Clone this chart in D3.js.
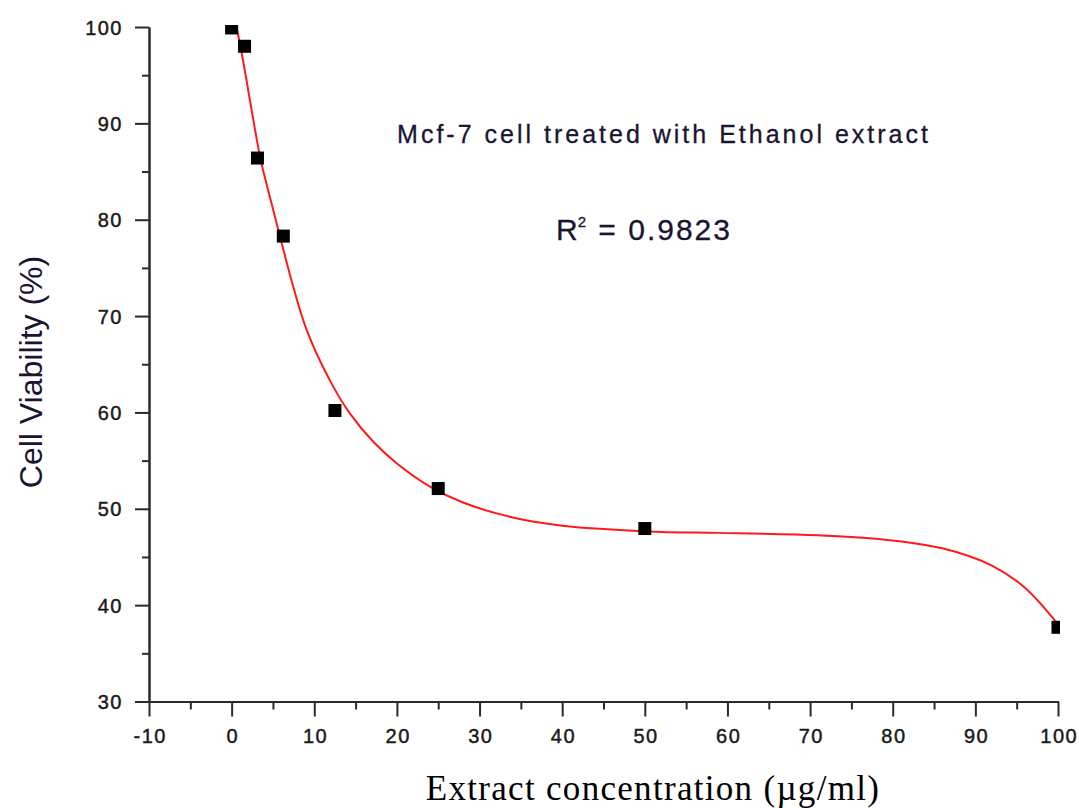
<!DOCTYPE html>
<html>
<head>
<meta charset="utf-8">
<script src="https://cdn.jsdelivr.net/npm/d3@7/dist/d3.min.js"></script>
<style>
  html, body { margin: 0; padding: 0; background: #fff; }
  svg { display: block; }
  .tick text { font-family: "Liberation Sans", Arial, sans-serif; font-size: 20px; fill: #1a1a1a; stroke: #1a1a1a; stroke-width: 0.45px; letter-spacing: 1.5px; }
</style>
</head>
<body>
<svg id="chart" width="1079" height="808"></svg>
<script>
// Measured viability of MCF-7 cells at each extract concentration
const concentration = [0, 1.5625, 3.125, 6.25, 12.5, 25, 50, 100];
const viability     = [99.9, 98.0, 86.4, 78.3, 60.2, 52.1, 47.95, 37.7];

// Fitted response curve, sampled along its length
const fitX = [0, 1.22, 2.63, 3.52, 4.85, 6.06, 7.27, 9.09, 11.9, 14.3, 17.2, 20, 24, 28, 34, 40, 46, 52, 59, 71, 78, 86, 92, 96, 100];
const fitY = [102.5, 97.27, 90.34, 86.19, 81.62, 77.57, 73.62, 68.54, 63.3, 59.9, 56.9, 54.7, 52.3, 50.65, 49.1, 48.25, 47.85, 47.6, 47.5, 47.25, 46.9, 45.9, 44.1, 41.8, 38.0];

// Axis ticks
const xMajor = [-10, 0, 10, 20, 30, 40, 50, 60, 70, 80, 90, 100];
const xMinor = [-5, 5, 15, 25, 35, 45, 55, 65, 75, 85, 95];
const yMajor = [30, 40, 50, 60, 70, 80, 90, 100];
const yMinor = [35, 45, 55, 65, 75, 85, 95];

const titleText = "Mcf-7 cell treated with Ethanol extract";
const r2Value = "0.9823";
const xLabel = "Extract concentration (\u00b5g/ml)";
const yLabel = "Cell Viability (%)";

const svg = d3.select("#chart");
const plot = { left: 149, right: 1058, top: 27, bottom: 701.5 };

const x = d3.scaleLinear().domain([-10, 100]).range([plot.left, plot.right]);
const y = d3.scaleLinear().domain([30, 100]).range([plot.bottom, plot.top]);

// Clip region for marks, a touch larger than the axes box
svg.append("defs").append("clipPath").attr("id", "plot-clip")
  .append("rect")
  .attr("x", plot.left - 2).attr("y", plot.top - 2)
  .attr("width", plot.right - plot.left + 4)
  .attr("height", plot.bottom - plot.top + 4);

function styleAxis(g) {
  g.select(".domain").attr("stroke", "#2a2a2a").attr("stroke-width", 2);
  g.selectAll(".tick line").attr("stroke", "#2a2a2a").attr("stroke-width", 2);
}

// Plain hyphen-minus labels
const fmt = (d) => String(d);

// Minor ticks
svg.append("g")
  .attr("transform", `translate(${plot.left},0)`)
  .call(d3.axisLeft(y).tickValues(yMinor).tickSize(7).tickSizeOuter(0).tickFormat(""))
  .call(styleAxis);
svg.append("g")
  .attr("transform", `translate(0,${plot.bottom})`)
  .call(d3.axisBottom(x).tickValues(xMinor).tickSize(8).tickSizeOuter(0).tickFormat(""))
  .call(styleAxis);

// Major ticks with labels
const yAxis = svg.append("g")
  .attr("transform", `translate(${plot.left},0)`)
  .call(d3.axisLeft(y).tickValues(yMajor).tickSize(14).tickSizeOuter(0).tickPadding(12).tickFormat(fmt))
  .call(styleAxis);
yAxis.selectAll(".tick text").attr("dy", "0.36em");

const xAxis = svg.append("g")
  .attr("transform", `translate(0,${plot.bottom})`)
  .call(d3.axisBottom(x).tickValues(xMajor).tickSize(15).tickSizeOuter(0).tickPadding(12).tickFormat(fmt))
  .call(styleAxis);
xAxis.selectAll(".tick text").attr("dy", "0.71em").attr("dx", "0.75px");

// Fitted curve
const marks = svg.append("g").attr("clip-path", "url(#plot-clip)");
const fitLine = d3.line()
  .x((d, i) => x(fitX[i]))
  .y((d, i) => y(fitY[i]))
  .curve(d3.curveCatmullRom.alpha(0.5));
marks.append("path")
  .datum(fitX)
  .attr("d", fitLine)
  .attr("fill", "none")
  .attr("stroke", "#ff1a1a")
  .attr("stroke-width", 2);

// Data markers
const ms = 13;
marks.selectAll("rect.pt")
  .data(concentration)
  .join("rect")
  .attr("class", "pt")
  .attr("x", (d) => x(d) - ms / 2)
  .attr("y", (d, i) => y(viability[i]) - ms / 2)
  .attr("width", ms)
  .attr("height", ms)
  .attr("fill", "#000");

// Annotation text
svg.append("text")
  .attr("x", 664).attr("y", 143)
  .attr("text-anchor", "middle")
  .attr("font-family", "'Liberation Sans', Arial, sans-serif")
  .attr("font-size", 25)
  .attr("letter-spacing", "3px")
  .attr("fill", "#1a1530")
  .attr("stroke", "#1a1530").attr("stroke-width", 0.3)
  .text(titleText);

const r2 = svg.append("text")
  .attr("x", 556).attr("y", 240)
  .attr("font-family", "'Liberation Sans', Arial, sans-serif")
  .attr("font-size", 30)
  .attr("letter-spacing", "2px")
  .attr("fill", "#1a1530")
  .attr("stroke", "#1a1530").attr("stroke-width", 0.3);
r2.append("tspan").text("R");
r2.append("tspan").attr("font-size", 15).attr("dy", -13).attr("dx", -2).text("2");
r2.append("tspan").attr("dy", 13).text(" = " + r2Value);

// Axis titles
svg.append("text")
  .attr("x", 653).attr("y", 800)
  .attr("text-anchor", "middle")
  .attr("font-family", "'Liberation Serif', 'Times New Roman', serif")
  .attr("font-size", 35)
  .attr("letter-spacing", "1.3px")
  .attr("fill", "#000")
  .text(xLabel);

svg.append("text")
  .attr("transform", "translate(42,372) rotate(-90)")
  .attr("text-anchor", "middle")
  .attr("font-family", "'Liberation Sans', Arial, sans-serif")
  .attr("font-size", 32)
  .attr("fill", "#1a1530")
  .text(yLabel);
</script>
</body>
</html>
